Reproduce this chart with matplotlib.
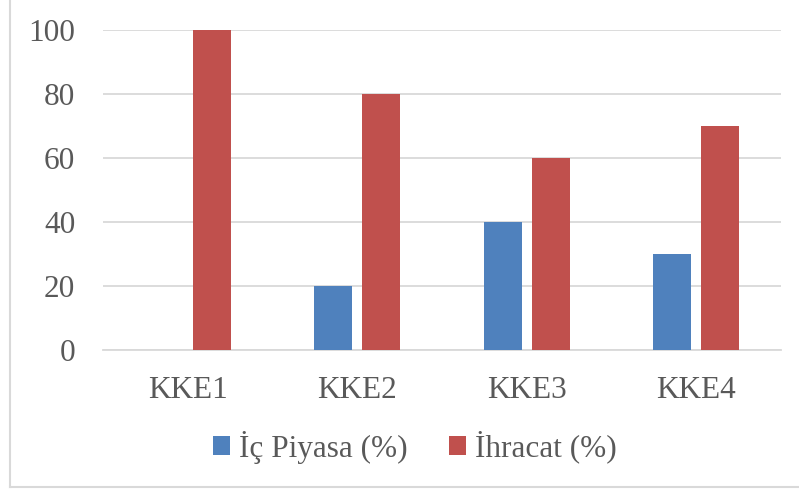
import numpy as np
import matplotlib.pyplot as plt
from matplotlib.lines import Line2D

plt.rcParams['font.family'] = ['Liberation Serif', 'DejaVu Serif']

categories = ['KKE1', 'KKE2', 'KKE3', 'KKE4']
ic_piyasa = [0, 20, 40, 30]
ihracat = [100, 80, 60, 70]
series_names = ['İç Piyasa (%)', 'İhracat (%)']
yticks = [0, 20, 40, 60, 80, 100]

blue = '#4F81BD'
red = '#C0504D'
text_col = '#595959'
grid_col = '#D9D9D9'

W, H = 799, 490
fig = plt.figure(figsize=(W / 100, H / 100), dpi=100)
ax = fig.add_axes([103 / W, 1 - 350 / H, (781 - 103) / W, (350 - 30) / H])

x = np.arange(len(categories))
bw = 0.224
off = 0.142
ax.bar(x - off, ic_piyasa, bw, color=blue, label=series_names[0], zorder=3)
ax.bar(x + off, ihracat, bw, color=red, label=series_names[1], zorder=3)

ax.set_xlim(-0.5, len(categories) - 0.5)
ax.set_ylim(0, 100)
ax.set_yticks(yticks)
ax.set_xticks(x)
ax.set_xticklabels(categories)
ax.yaxis.grid(True, color=grid_col, linewidth=1.3, zorder=0)
ax.set_axisbelow(True)
for s in ['top', 'right', 'left']:
    ax.spines[s].set_visible(False)
ax.spines['bottom'].set_color(grid_col)
ax.spines['bottom'].set_linewidth(1.3)
ax.tick_params(axis='both', length=0, labelsize=22.5, labelcolor=text_col)
ax.tick_params(axis='y', pad=20)
ax.tick_params(axis='x', pad=19)

leg = fig.legend(loc='center', bbox_to_anchor=(415 / W, 1 - 447 / H), ncol=2,
                 frameon=False, fontsize=22.5, handlelength=0.55, handleheight=0.55,
                 handletextpad=0.3, columnspacing=1.3)
for t in leg.get_texts():
    t.set_color(text_col)

# outer chart border (left and bottom visible)
fig.add_artist(Line2D([10 / W, 10 / W], [3 / H, 1], color=grid_col, lw=1.5, transform=fig.transFigure))
fig.add_artist(Line2D([10 / W, 1], [3 / H, 3 / H], color=grid_col, lw=1.5, transform=fig.transFigure))

fig.savefig('out.png', dpi=100)
